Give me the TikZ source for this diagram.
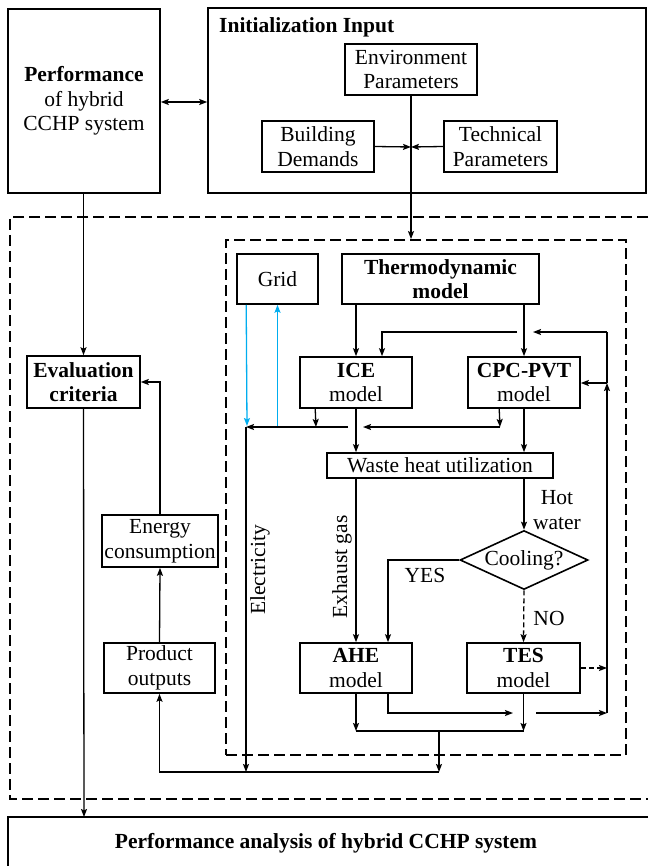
\documentclass[tikz,border=0pt]{standalone}
\usepackage{fontspec}
\setmainfont{Liberation Serif}
\usetikzlibrary{arrows.meta,shapes.geometric,calc}
\begin{document}
\begin{tikzpicture}[x=1pt,y=-1pt,
  txt/.style={font=\fontsize{21.5}{24.5}\selectfont},
  box/.style={draw,line width=1.6pt,inner sep=0.3pt,align=center,txt},
  conn/.style={line width=1.3pt,-{Stealth[length=8pt,width=6pt,inset=1.5pt]}},
  dconn/.style={conn,dash pattern=on 5pt off 3pt},
  biconn/.style={line width=1.3pt,{Stealth[length=8pt,width=6pt,inset=1.5pt]}-{Stealth[length=8pt,width=6pt,inset=1.5pt]}},
  plain/.style={line width=1.3pt},
  dbox/.style={draw,line width=1.8pt,dash pattern=on 11pt off 5pt},
  lbl/.style={txt,inner sep=0pt,align=center},
  blbl/.style={font=\fontsize{21.5}{24.5}\selectfont\bfseries,inner sep=0pt,align=center}]
\useasboundingbox (0,0) rectangle (648,866);

% ---------- frames ----------
\draw[dbox,line width=1.5pt] (648,217) -- (10,217) -- (10,799) -- (648,799);
\draw[line width=1.6pt] (648,817) -- (8,817) -- (8,866);
\coordinate (patop) at (84,817);
\node[blbl] (patext) at (326,843) {Performance analysis of hybrid CCHP system};

\node[dbox,minimum width=400pt,minimum height=515pt,inner sep=0pt] (inner) at (426,497.5) {};

% ---------- top ----------
\node[box,minimum width=152pt,minimum height=184pt] (perf) at (84,101)
  {\textbf{Performance}\\of hybrid\\CCHP system};
\node[draw,line width=1.6pt,minimum width=438pt,minimum height=185pt,inner sep=0pt] (init) at (427,100.5) {};
\node[blbl,anchor=west] (inittitle) at (219,27) {Initialization Input};
\node[box,minimum width=132pt,minimum height=51pt] (env) at (411,69.5) {Environment\\Parameters};
\node[box,minimum width=112pt,minimum height=51pt] (bld) at (318,146.5) {Building\\Demands};
\node[box,minimum width=113pt,minimum height=51pt] (tech) at (500.5,146.5) {Technical\\Parameters};
\coordinate (J) at (411,147);

\draw[biconn] (perf.east |- 0,102) -- (init.west |- 0,102);
\draw[conn] (env.south) -- (env.south |- inner.north);
\draw[conn] (bld.east) -- (J);
\draw[conn] (tech.west) -- (J);

% ---------- left column ----------
\node[box,minimum width=113pt,minimum height=52pt] (eval) at (83.5,382) {\textbf{Evaluation}\\\textbf{criteria}};
\node[box,minimum width=116pt,minimum height=52pt] (energy) at (160,541) {Energy\\consumption};
\node[box,minimum width=111pt,minimum height=50pt] (prod) at (159.5,668) {Product\\outputs};

\draw[conn] (perf.south -| eval.north) -- (eval.north);
\draw[conn] (eval.south) -- (patop);
\draw[conn] (energy.north) |- (eval.east);
\draw[conn] (prod.north) -- (energy.south);

% ---------- inner model ----------
\node[box,minimum width=81pt,minimum height=50pt] (grid) at (277.5,279) {Grid};
\node[box,minimum width=197pt,minimum height=50pt] (thermo) at (440.5,279) {\textbf{Thermodynamic}\\\textbf{model}};
\node[box,minimum width=112pt,minimum height=51pt] (ice) at (356,382.5) {\textbf{ICE}\\model};
\node[box,minimum width=112pt,minimum height=51pt] (cpc) at (524,382.5) {\textbf{CPC-PVT}\\model};
\node[box,minimum width=226pt,minimum height=25pt,inner sep=0pt] (waste) at (440,465.5) {Waste heat utilization};
\node[draw,line width=1.6pt,diamond,aspect=2.17,minimum width=128pt,minimum height=59pt,inner sep=0pt,txt] (cool) at (524,560) {Cooling?};
\node[box,minimum width=112pt,minimum height=50pt] (ahe) at (356,668) {\textbf{AHE}\\model};
\node[box,minimum width=113pt,minimum height=50pt] (tes) at (523.5,668) {\textbf{TES}\\model};

\node[lbl,rotate=90] (elec) at (260,570) {Electricity};
\node[lbl,rotate=90] (exh) at (342,567) {Exhaust gas};
\node[lbl] (hot) at (557,510) {Hot\\water};
\node[lbl] (yes) at (425,575) {YES};
\node[lbl] (no) at (549,618) {NO};

% coordinates
\coordinate (E1) at (246,427);
\coordinate (E2) at (246,772);
\coordinate (B1) at (439,772);
\coordinate (M)  at (439,731);
\coordinate (R1) at (607,713);
\coordinate (R2) at (607,383);
\coordinate (R3) at (607,332);

% thermo -> ICE / CPC
\draw[conn] (thermo.south -| ice.north) -- (ice.north);
\draw[conn] (thermo.south -| cpc.north) -- (cpc.north);

% feedback loop on the right
\draw[conn] (R1) -- (R2);
\draw[plain] (R2) -- (R3);
\draw[conn] (R3) -- (533,332);
\draw[conn] (517,332) -| ($(ice.north)+(26,0)$);
\draw[conn] (R2) -- (cpc.east |- R2);

% grid links
\draw[conn,cyan] ($(grid.south west)+(10,0)$) -- (247,426);
\draw[conn,cyan] (grid.south |- E1) -- (grid.south);

% electricity bus
\draw[conn] ($(ice.south west)+(16,0)$) -- (316,427);
\draw[conn] (348,427) -- (E1);
\draw[conn] ($(cpc.south west)+(32,0)$) -- (500,427);
\draw[conn] (500,427) -- (363,427);
\draw[conn] (E1) -- (E2);

% to waste heat
\draw[conn] (ice.south) -- (ice.south |- waste.north);
\draw[conn] (cpc.south) -- (cpc.south |- waste.north);

% waste heat outputs
\draw[conn] (waste.south -| ahe.north) -- (ahe.north);
\draw[conn] (waste.south -| cool.north) -- (cool.north);
\draw[conn] (cool.west) -| ($(ahe.north)+(32,0)$);
\draw[dconn] (cool.south) -- (tes.north);
\draw[dconn] (tes.east) -- (tes.east -| R1);

% bottom outputs
\draw[conn] (ahe.south) -- (ahe.south |- M);
\draw[conn] ($(ahe.south)+(32,0)$) |- (513,713);
\draw[conn] (536,713) -- (R1);
\draw[conn] (tes.south) -- (tes.south |- M);
\draw[plain] (ahe.south |- M) -- (tes.south |- M);
\draw[conn] (M) -- (B1);
\draw[conn] (B1) -| (prod.south);
\end{tikzpicture}
\end{document}
